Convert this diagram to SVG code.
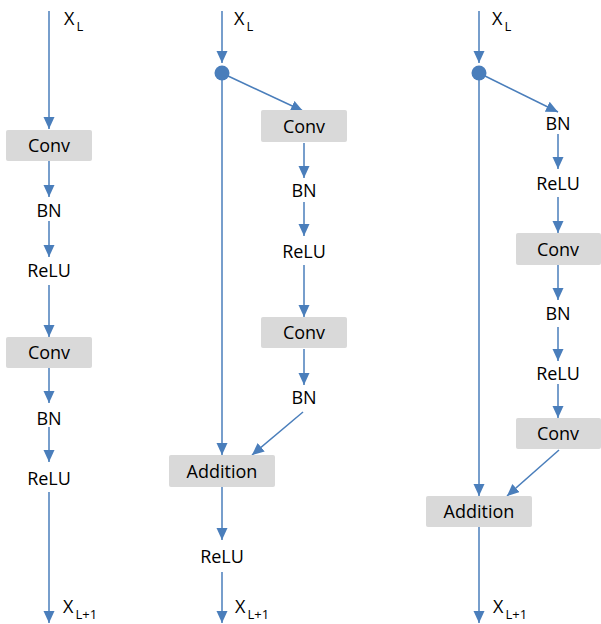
<svg xmlns="http://www.w3.org/2000/svg" width="601" height="624" viewBox="0 0 601 624">
<defs>
<marker id="ah" markerUnits="userSpaceOnUse" markerWidth="13" markerHeight="12" refX="12" refY="5.5" orient="auto">
<path d="M0,0 L12,5.5 L0,11 z" fill="#4a7ebb"/>
</marker>
<style>
.c line{stroke:#4a7ebb;stroke-width:1.5;fill:none;marker-end:url(#ah)}
.box{fill:#d9d9d9}
text{font-family:"Open Sans","Liberation Sans",sans-serif;font-size:18px;fill:#000;text-anchor:middle}
text.x{text-anchor:start}
.sub{font-size:13px}
.dot{fill:#4a7ebb}
</style>
</defs>
<rect width="601" height="624" fill="#fff"/>
<g class="c" id="connectors">
<line x1="49" y1="11" x2="49" y2="129"/>
<line x1="49" y1="161" x2="49" y2="197"/>
<line x1="49" y1="221" x2="49" y2="257"/>
<line x1="49" y1="285" x2="49" y2="337"/>
<line x1="49" y1="368" x2="49" y2="403"/>
<line x1="49" y1="427" x2="49" y2="462"/>
<line x1="49" y1="492" x2="49" y2="623"/>
<line x1="222" y1="11" x2="222" y2="63"/>
<line x1="228" y1="76" x2="303" y2="111"/>
<line x1="222" y1="80" x2="222" y2="455"/>
<line x1="304" y1="143" x2="304" y2="178"/>
<line x1="304" y1="202" x2="304" y2="236"/>
<line x1="304" y1="265" x2="304" y2="317"/>
<line x1="304" y1="349" x2="304" y2="385"/>
<line x1="303" y1="412" x2="252" y2="455"/>
<line x1="222" y1="487" x2="222" y2="540"/>
<line x1="222" y1="572" x2="222" y2="623"/>
<line x1="479" y1="11" x2="479" y2="63"/>
<line x1="485" y1="76" x2="558" y2="112"/>
<line x1="479" y1="80" x2="479" y2="496"/>
<line x1="558" y1="134" x2="558" y2="169"/>
<line x1="558" y1="197" x2="558" y2="233"/>
<line x1="558" y1="265" x2="558" y2="300"/>
<line x1="558" y1="327" x2="558" y2="361"/>
<line x1="558" y1="384" x2="558" y2="418"/>
<line x1="559" y1="450" x2="507" y2="496"/>
<line x1="479" y1="527" x2="479" y2="623"/>
</g>
<g id="c1-xl"><text class="x" x="64" y="25">X<tspan class="sub" dx="2" dy="6">L</tspan></text></g>
<g id="c1-conv1"><rect class="box" x="6" y="130" width="86" height="31" rx="2"/><text x="49" y="152">Conv</text></g>
<g id="c1-bn1"><text x="49" y="217">BN</text></g>
<g id="c1-relu1"><text x="49" y="277">ReLU</text></g>
<g id="c1-conv2"><rect class="box" x="6" y="337" width="86" height="31" rx="2"/><text x="49" y="359">Conv</text></g>
<g id="c1-bn2"><text x="49" y="425">BN</text></g>
<g id="c1-relu2"><text x="49" y="485">ReLU</text></g>
<g id="c1-xl1"><text class="x" x="63" y="613">X<tspan class="sub" dx="2" dy="6">L+1</tspan></text></g>

<g id="c2-xl"><text class="x" x="234" y="25">X<tspan class="sub" dx="2" dy="6">L</tspan></text></g>
<g id="c2-dot"><circle class="dot" cx="222" cy="73" r="7.5"/></g>
<g id="c2-conv1"><rect class="box" x="261" y="110" width="86" height="32" rx="2"/><text x="304" y="133">Conv</text></g>
<g id="c2-bn1"><text x="304" y="197">BN</text></g>
<g id="c2-relu1"><text x="304" y="258">ReLU</text></g>
<g id="c2-conv2"><rect class="box" x="261" y="317" width="86" height="31" rx="2"/><text x="304" y="339">Conv</text></g>
<g id="c2-bn2"><text x="304" y="404">BN</text></g>
<g id="c2-add"><rect class="box" x="169" y="455" width="106" height="32" rx="2"/><text x="222" y="478">Addition</text></g>
<g id="c2-relu2"><text x="222" y="563">ReLU</text></g>
<g id="c2-xl1"><text class="x" x="235" y="613">X<tspan class="sub" dx="2" dy="6">L+1</tspan></text></g>

<g id="c3-xl"><text class="x" x="492" y="25">X<tspan class="sub" dx="2" dy="6">L</tspan></text></g>
<g id="c3-dot"><circle class="dot" cx="479" cy="73" r="7.5"/></g>
<g id="c3-bn1"><text x="558" y="130">BN</text></g>
<g id="c3-relu1"><text x="558" y="190">ReLU</text></g>
<g id="c3-conv1"><rect class="box" x="516" y="233" width="85" height="32" rx="2"/><text x="558" y="256">Conv</text></g>
<g id="c3-bn2"><text x="558" y="320">BN</text></g>
<g id="c3-relu2"><text x="558" y="380">ReLU</text></g>
<g id="c3-conv2"><rect class="box" x="516" y="418" width="85" height="31" rx="2"/><text x="558" y="440">Conv</text></g>
<g id="c3-add"><rect class="box" x="426" y="496" width="106" height="31" rx="2"/><text x="479" y="518">Addition</text></g>
<g id="c3-xl1"><text class="x" x="493" y="613">X<tspan class="sub" dx="2" dy="6">L+1</tspan></text></g>
</svg>
